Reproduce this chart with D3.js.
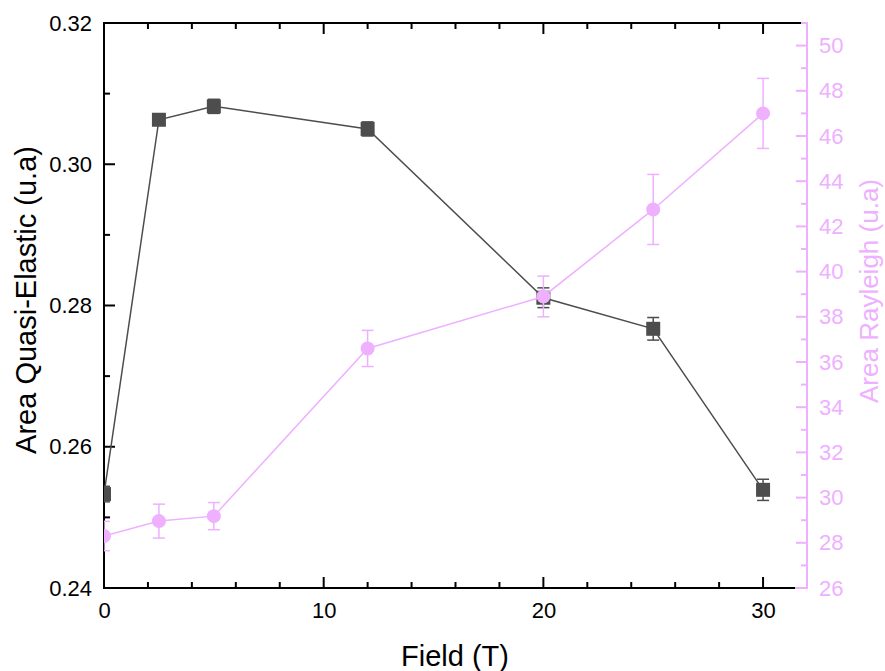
<!DOCTYPE html>
<html><head><meta charset="utf-8">
<script src="https://cdn.jsdelivr.net/npm/d3@7"></script>
<style>body{margin:0;background:#fff}svg{display:block}text{font-family:"Liberation Sans",Arial,sans-serif}</style>
</head><body><svg id="c" width="885" height="671"></svg>
<script>
const fields = [0, 2.5, 5, 12, 20, 25, 30];
const quasiElastic = [0.2533, 0.3063, 0.3082, 0.3050, 0.2811, 0.2767, 0.2539];
const quasiErr = [0.0011, 0.0007, 0.0010, 0.0010, 0.0014, 0.0016, 0.0015];
const rayleigh = [28.3, 28.96, 29.18, 36.6, 38.9, 42.75, 47.0];
const rayleighErr = [0.65, 0.75, 0.6, 0.8, 0.9, 1.55, 1.55];
const xTicks = [0, 10, 20, 30];
const leftTicks = [0.24, 0.26, 0.28, 0.30, 0.32];
const rightTicks = [26, 28, 30, 32, 34, 36, 38, 40, 42, 44, 46, 48, 50];

const dark = "#4d4d4d", pink = "#eeb0ff";
const L = 104, R = 807, T = 23, B = 588;
const svg = d3.select("#c");
const x = d3.scaleLinear().domain([0, 32]).range([L, R]);
const yL = d3.scaleLinear().domain([0.24, 0.32]).range([B, T]);
const yR = d3.scaleLinear().domain([26, 51]).range([B, T]);

svg.append("defs").append("clipPath").attr("id","clip")
  .append("rect").attr("x",L).attr("y",T).attr("width",R-L).attr("height",B-T);

// frame
const f = svg.append("g");
f.append("line").attr("x1",L).attr("x2",795).attr("y1",B).attr("y2",B).attr("stroke","#000").attr("stroke-width",2);
f.append("line").attr("x1",L).attr("x2",801).attr("y1",T).attr("y2",T).attr("stroke","#000").attr("stroke-width",2);
f.append("line").attr("x1",795).attr("x2",R).attr("y1",B).attr("y2",B).attr("stroke",pink).attr("stroke-width",2);
f.append("line").attr("x1",L).attr("x2",L).attr("y1",T-1).attr("y2",B+1).attr("stroke","#000").attr("stroke-width",2);

// x ticks bottom & top
const xMinor = d3.range(0, 32.01, 2);
xMinor.forEach(v => {
  const major = v % 10 === 0;
  const len = major ? 11 : 6;
  if (v === 0) return;
  f.append("line").attr("x1",x(v)).attr("x2",x(v)).attr("y1",B).attr("y2",B-len).attr("stroke","#000").attr("stroke-width",2);
  f.append("line").attr("x1",x(v)).attr("x2",x(v)).attr("y1",T).attr("y2",T+len).attr("stroke","#000").attr("stroke-width",2);
});
const xAxis = d3.axisBottom(x).tickValues(xTicks).tickSize(0).tickPadding(0).tickFormat(d3.format("d"));
const gx = svg.append("g").attr("transform",`translate(0,${B})`).call(xAxis);
gx.select(".domain").remove();
gx.selectAll("text").attr("font-size",22).attr("fill","#000").attr("dy","1em").attr("y",8);

// left ticks
const lMinor = d3.range(0.24, 0.3201, 0.01);
lMinor.forEach((v,i) => {
  const len = i % 2 === 0 ? 11 : 6;
  f.append("line").attr("x1",L).attr("x2",L+len).attr("y1",yL(v)).attr("y2",yL(v)).attr("stroke","#000").attr("stroke-width",2);
});
const lAxis = d3.axisLeft(yL).tickValues(leftTicks).tickSize(0).tickPadding(12).tickFormat(d3.format(".2f"));
const gl = svg.append("g").attr("transform",`translate(${L},0)`).call(lAxis);
gl.select(".domain").remove();
gl.selectAll("text").attr("font-size",22).attr("fill","#000");

// right axis
const ra = svg.append("g");
ra.append("line").attr("x1",R).attr("x2",R).attr("y1",T-1).attr("y2",B+1).attr("stroke",pink).attr("stroke-width",2);
d3.range(26, 51.01, 1).forEach(v => {
  const len = v % 2 === 0 ? 11 : 6;
  ra.append("line").attr("x1",R-len).attr("x2",R).attr("y1",yR(v)).attr("y2",yR(v)).attr("stroke",pink).attr("stroke-width",2);
});
const rAxis = d3.axisRight(yR).tickValues(rightTicks).tickSize(0).tickPadding(12).tickFormat(d3.format("d"));
const gr = svg.append("g").attr("transform",`translate(${R},0)`).call(rAxis);
gr.select(".domain").remove();
gr.selectAll("text").attr("font-size",22).attr("fill",pink);

// titles
svg.append("text").attr("transform",`translate(36,300) rotate(-90)`).attr("text-anchor","middle")
  .attr("font-size",29).attr("fill","#000").text("Area Quasi-Elastic (u.a)");
svg.append("text").attr("transform",`translate(878,291) rotate(-90)`).attr("text-anchor","middle")
  .attr("font-size",26).attr("fill",pink).text("Area Rayleigh (u.a)");
svg.append("text").attr("x",455).attr("y",666).attr("text-anchor","middle")
  .attr("font-size",29).attr("fill","#000").text("Field (T)");

const plot = svg.append("g").attr("clip-path","url(#clip)");

function drawSeries(vals, errs, y, color, shape) {
  const g = plot.append("g");
  g.append("path").datum(fields.map((f,i)=>[f,vals[i]]))
    .attr("d", d3.line().x(d=>x(d[0])).y(d=>y(d[1])))
    .attr("fill","none").attr("stroke",color).attr("stroke-width",1.5);
  fields.forEach((f,i) => {
    const cx = x(f), lo = y(vals[i]-errs[i]), hi = y(vals[i]+errs[i]);
    g.append("line").attr("x1",cx).attr("x2",cx).attr("y1",lo).attr("y2",hi).attr("stroke",color).attr("stroke-width",1.5);
    [lo,hi].forEach(yy => g.append("line").attr("x1",cx-6).attr("x2",cx+6).attr("y1",yy).attr("y2",yy).attr("stroke",color).attr("stroke-width",1.5));
    if (shape === "square") {
      g.append("rect").attr("x",cx-7).attr("y",y(vals[i])-7).attr("width",14).attr("height",14).attr("fill",color);
    } else {
      g.append("circle").attr("cx",cx).attr("cy",y(vals[i])).attr("r",7).attr("fill",color);
    }
  });
}
drawSeries(quasiElastic, quasiErr, yL, dark, "square");
drawSeries(rayleigh, rayleighErr, yR, pink, "circle");
</script></body></html>
